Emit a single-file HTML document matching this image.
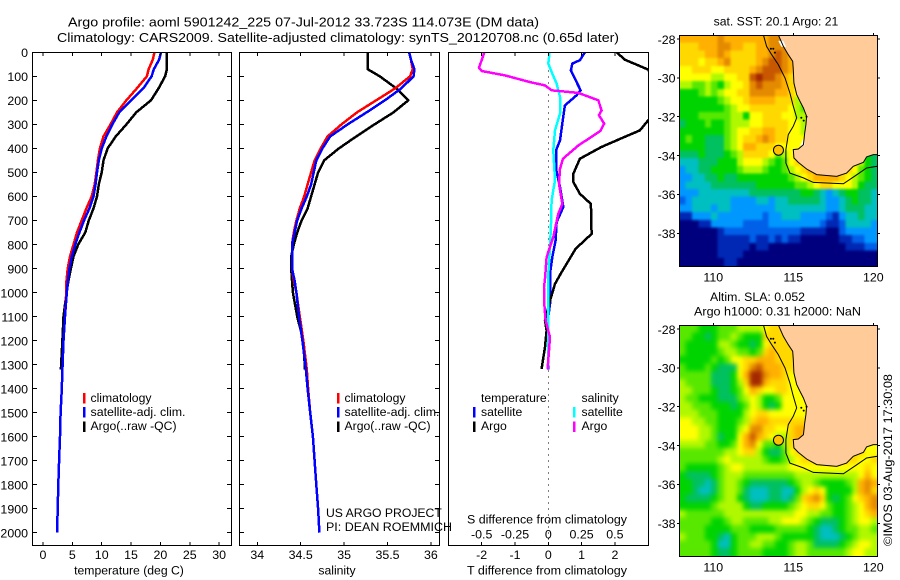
<!DOCTYPE html>
<html lang="en">
<head>
<meta charset="utf-8">
<title>Argo profile 5901242_225</title>
<style>
  html, body { margin: 0; padding: 0; background: #fff; }
  #chart { display: block; width: 900px; height: 580px; font-family: "Liberation Sans", sans-serif; font-size: 12.4px; fill: #000; }
  #chart text { fill: #000; }
  .crisp { shape-rendering: crispEdges; }
</style>
</head>
<body>
<svg id="chart" xmlns="http://www.w3.org/2000/svg" width="900" height="580" viewBox="0 0 900 580">
  <defs>
    <clipPath id="clip-t"><rect x="32.5" y="52.5" width="199" height="493"/></clipPath>
    <clipPath id="clip-s"><rect x="239.5" y="52.5" width="200" height="493"/></clipPath>
    <clipPath id="clip-d"><rect x="448.5" y="52.5" width="200" height="493"/></clipPath>
    <clipPath id="clip-m1"><rect x="679.5" y="35.5" width="198" height="231"/></clipPath>
    <clipPath id="clip-m2"><rect x="679.5" y="325.5" width="198" height="231"/></clipPath>
    <filter id="blur-sst" filterUnits="userSpaceOnUse" x="650" y="0" width="250" height="580" color-interpolation-filters="sRGB"><feGaussianBlur stdDeviation="1.4"/></filter>
    <filter id="blur-sla" filterUnits="userSpaceOnUse" x="650" y="0" width="250" height="580" color-interpolation-filters="sRGB"><feGaussianBlur stdDeviation="2.4"/></filter>
  </defs>

  <text x="68" y="26.5" font-size="13.2" textLength="471" lengthAdjust="spacingAndGlyphs">Argo profile: aoml 5901242_225 07-Jul-2012 33.723S 114.073E (DM data)</text>
  <text x="57" y="42" font-size="13.2" textLength="562" lengthAdjust="spacingAndGlyphs">Climatology: CARS2009. Satellite-adjusted climatology: synTS_20120708.nc (0.65d later)</text>

  <g id="temp-panel"></g>
  <g id="sal-panel"></g>
  <g id="diff-panel"></g>
  <g id="sst-map"></g>
  <g id="sla-map"></g>

  <text x="129" y="574.5" text-anchor="middle" font-size="12.2">temperature (deg C)</text>
  <text x="337" y="574.5" text-anchor="middle" font-size="12.2">salinity</text>
  <text x="547" y="574.5" text-anchor="middle" font-size="12.2" textLength="160" lengthAdjust="spacingAndGlyphs">T difference from climatology</text>
  <text x="547" y="523.5" text-anchor="middle" font-size="12.2" textLength="160" lengthAdjust="spacingAndGlyphs">S difference from climatology</text>

  <g>
    <rect class="crisp" x="83" y="393" width="2.5" height="10.5" fill="#f00"/>
    <rect class="crisp" x="83" y="407" width="2.5" height="10.5" fill="#00f"/>
    <rect class="crisp" x="83" y="421.5" width="2.5" height="10.5" fill="#000"/>
    <text x="90.5" y="402" font-size="12.2">climatology</text>
    <text x="90.5" y="416" font-size="12.2" textLength="95" lengthAdjust="spacingAndGlyphs">satellite-adj. clim.</text>
    <text x="90.5" y="430" font-size="12.2">Argo(..raw -QC)</text>
  </g>
  <g>
    <rect class="crisp" x="337" y="393" width="2.5" height="10.5" fill="#f00"/>
    <rect class="crisp" x="337" y="407" width="2.5" height="10.5" fill="#00f"/>
    <rect class="crisp" x="337" y="421.5" width="2.5" height="10.5" fill="#000"/>
    <text x="344.5" y="402" font-size="12.2">climatology</text>
    <text x="344.5" y="416" font-size="12.2" textLength="95" lengthAdjust="spacingAndGlyphs">satellite-adj. clim.</text>
    <text x="344.5" y="430" font-size="12.2">Argo(..raw -QC)</text>
  </g>
  <g>
    <text x="481" y="402" font-size="12.2">temperature</text>
    <rect class="crisp" x="473" y="407" width="2.5" height="10.5" fill="#00f"/>
    <rect class="crisp" x="473" y="421.5" width="2.5" height="10.5" fill="#000"/>
    <text x="481" y="416" font-size="12.2">satellite</text>
    <text x="481" y="430" font-size="12.2">Argo</text>
    <text x="581.5" y="402" font-size="12.2">salinity</text>
    <rect class="crisp" x="573" y="407" width="2.5" height="10.5" fill="#0ff"/>
    <rect class="crisp" x="573" y="421.5" width="2.5" height="10.5" fill="#f0f"/>
    <text x="581.5" y="416" font-size="12.2">satellite</text>
    <text x="581.5" y="430" font-size="12.2">Argo</text>
  </g>

  <text x="326" y="517" font-size="12.2">US ARGO PROJECT</text>
  <text x="326" y="531" font-size="12.2" textLength="126" lengthAdjust="spacingAndGlyphs">PI: DEAN ROEMMICH</text>

  <text x="776" y="25.5" text-anchor="middle" font-size="12.2">sat. SST: 20.1 Argo: 21</text>
  <text x="710" y="301" font-size="12.2" textLength="95" lengthAdjust="spacingAndGlyphs">Altim. SLA: 0.052</text>
  <text x="694" y="315.5" font-size="12.2" textLength="167" lengthAdjust="spacingAndGlyphs">Argo h1000: 0.31 h2000: NaN</text>
  <text transform="translate(892 546) rotate(-90)" font-size="12.2" textLength="172" lengthAdjust="spacingAndGlyphs">©IMOS 03-Aug-2017 17:30:08</text>
</svg>

<script>
// ---- Profile data ----
const depths = [0,30,70,100,150,200,250,300,350,400,450,500,550,600,650,700,750,800,850,900,950,1000,1100,1200,1320,1400,1500,1600,1700,1800,1900,2000];
const tempClim = [19,18.7,18,17.7,16,14.2,12.6,11.5,10.3,9.7,9.35,9.1,8.8,8.3,7.4,6.6,5.8,5.2,4.6,4.2,4,3.95,3.75,3.5,3.3,3.2,3,2.9,2.75,2.6,2.5,2.4];
const tempSat = [20.1,19.8,18.9,18.5,17.1,15,13,11.8,10.8,10,9.5,9.2,8.95,8.6,7.9,7,6.2,5.5,4.9,4.5,4.25,4.05,3.75,3.5,3.3,3.2,3,2.9,2.75,2.6,2.5,2.4];
const tempArgo = [21.1,21.1,21.1,20.8,19.7,18.4,15.9,14.2,12.4,11,10.3,10,9.5,9.2,8.6,7.8,7.2,6,5.2,4.75,4.35,4,3.5,3.3,3.05];
const salClim = [35.75,35.77,35.79,35.76,35.59,35.37,35.15,34.97,34.81,34.73,34.66,34.62,34.58,34.54,34.49,34.45,34.42,34.4,34.4,34.4,34.42,34.45,34.49,34.53,34.57,34.585,34.61,34.64,34.66,34.68,34.7,34.715];
const salSat = [35.75,35.77,35.81,35.8,35.66,35.47,35.26,35.04,34.84,34.75,34.68,34.65,34.62,34.57,34.51,34.46,34.43,34.4,34.4,34.4,34.43,34.45,34.48,34.52,34.56,34.58,34.61,34.64,34.66,34.68,34.7,34.715];
const salArgo = [35.27,35.27,35.27,35.41,35.6,35.74,35.57,35.35,35.14,34.94,34.77,34.7,34.66,34.62,34.58,34.51,34.46,34.42,34.39,34.39,34.4,34.41,34.46,34.53,34.55];

const dtSatDepths = [0,33,47,75,124,158,179,221,297,367,408,485,561,644,707,783,853,922,1047,1100,1320];
const dtSatValues = [1.1,0.95,0.72,0.68,0.85,0.97,0.85,0.5,0.42,0.35,0.23,0.23,0.35,0.45,0.25,0.22,0.12,0.05,0.05,0,0];
const dtArgoDepths = [0,31,72,100,150,200,250,283,325,364,394,443,506,540,589,631,756,818,881,915,964,1026,1116,1158,1227,1318];
const dtArgoValues = [2.05,2.3,3,3.1,3.7,4.2,3.3,3,2.75,2.1,1.6,0.95,0.75,0.75,0.95,1.28,1.3,0.82,0.55,0.4,0.2,0.07,-0.1,-0.05,-0.1,-0.2];
const dsSatDepths = [0,47,89,130,186,255,325,408,533,617,714,811,922,1304];
const dsSatValues = [0.01,0,0.03,0.0625,0.0875,0.0875,0.05,0.0375,0.05,0.025,0.02,0.0125,0,0];
const dsArgoDepths = [0,64,78,96,124,138,158,169,200,242,262,297,328,388,443,485,547,631,672,769,853,943,977,1047,1116,1186,1318];
const dsArgoValues = [-0.48,-0.52,-0.5,-0.325,-0.1375,-0.025,0.025,0.225,0.375,0.4,0.38,0.42,0.39,0.225,0.11,0.0875,0.08,0.105,0.075,0.0375,-0.0125,-0.025,-0.0325,-0.03,-0.02,0.0125,-0.005];

// ---- Tick labels ----
const depthTicks = [0,100,200,300,400,500,600,700,800,900,1000,1100,1200,1300,1400,1500,1600,1700,1800,1900,2000];
const tempTicks = [0,5,10,15,20,25,30];
const salTicks = [34,34.5,35,35.5,36];
const dtTicks = [-2,-1,0,1,2];
const dsTicks = [-0.5,-0.25,0,0.25,0.5];
const lonTicks = [110,115,120];
const latTicks = [-28,-30,-32,-34,-36,-38];

// ---- Map grids: colour level per cell, north to south, west to east ----
const mapCols = 31;
const mapRows = 30;
const sstGrid = [
[11,11,11,11,11,11,12,11,11,11,11,11,11,11,12,12,10,10,10,10,10,10,10,10,10,10,10,10,10,10,10],
[10,10,10,11,11,11,12,12,11,11,10,10,11,11,12,12,12,10,10,10,10,10,10,10,10,10,10,10,10,10,10],
[10,10,10,10,11,11,12,11,10,10,10,10,11,11,12,13,12,11,10,10,10,10,10,10,10,10,10,10,10,10,10],
[10,10,10,9,10,10,11,12,10,10,10,10,11,12,13,13,12,11,10,10,10,10,10,10,10,10,10,10,10,10,10],
[9,9,10,10,10,9,9,10,10,10,10,11,12,13,13,13,12,11,10,10,10,10,10,10,10,10,10,10,10,10,10],
[9,9,9,9,9,8,8,9,9,10,10,13,14,13,13,12,11,10,10,10,10,10,10,10,10,10,10,10,10,10,10],
[8,8,7,7,8,7,6,8,9,9,10,12,13,12,12,12,11,10,10,10,10,10,10,10,10,10,10,10,10,10,10],
[6,6,6,7,8,7,8,9,9,10,10,12,12,12,12,11,11,10,9,9,9,9,9,9,9,9,9,9,9,9,9],
[6,6,6,6,6,6,7,8,9,9,10,11,11,11,11,10,10,10,8,8,8,8,8,8,8,8,8,8,8,8,8],
[6,6,6,6,6,6,6,7,8,9,9,10,10,10,10,10,10,9,8,7,7,7,7,7,7,7,7,7,7,7,7],
[6,6,6,7,7,7,7,7,8,8,6,9,9,10,10,10,9,9,8,8,8,8,8,8,8,8,8,8,8,8,8],
[5,6,6,6,7,6,6,7,8,8,8,9,9,10,10,10,10,9,9,8,8,8,8,8,8,8,8,8,8,8,8],
[6,6,6,6,6,6,6,7,8,9,9,10,10,11,11,10,10,9,9,8,8,8,8,8,8,8,8,8,8,8,8],
[6,7,6,6,5,5,5,7,8,9,10,10,11,12,11,10,10,9,9,9,9,9,9,9,9,9,9,9,9,9,9],
[6,6,6,6,5,5,5,7,8,9,11,11,10,10,10,9,9,9,9,9,9,9,9,9,9,9,9,9,9,9,9],
[5,5,5,6,5,5,5,6,7,8,10,10,10,10,9,7,8,9,10,10,10,10,10,10,10,10,10,10,10,6,5],
[4,4,4,5,5,5,6,6,6,8,9,9,9,8,7,6,7,9,10,10,11,11,11,11,11,11,11,10,8,6,5],
[3,4,4,5,5,6,6,6,6,7,8,8,8,7,6,6,7,8,9,10,11,11,11,11,11,11,10,9,7,6,5],
[3,3,4,4,5,5,6,5,5,6,6,6,6,6,6,6,6,7,8,9,10,11,11,11,11,10,9,8,7,6,5],
[3,4,4,4,4,5,5,5,5,5,5,5,6,6,6,6,6,6,7,7,8,9,10,10,9,9,9,8,6,5,5],
[3,3,3,4,4,4,4,4,4,4,4,5,5,5,5,5,5,5,5,6,6,5,4,3,4,5,6,6,5,5,4],
[2,3,4,4,4,4,4,4,3,3,3,3,4,4,3,4,4,5,5,5,5,5,4,3,3,4,5,6,5,5,4],
[3,3,4,4,4,3,4,4,3,3,3,3,3,3,3,4,4,4,4,4,4,4,4,3,3,4,5,5,5,4,4],
[1,1,3,3,3,4,3,3,3,3,3,3,3,2,3,3,4,4,4,3,3,3,3,2,1,3,4,4,5,4,4],
[0,0,0,1,1,3,3,3,3,3,2,2,2,2,3,3,3,3,3,3,3,3,2,1,1,2,4,4,4,4,3],
[0,0,0,0,0,0,1,2,2,2,2,2,2,2,2,2,2,2,2,1,1,1,1,0,0,2,3,3,3,3,3],
[0,0,0,0,0,0,1,1,1,1,1,2,1,1,2,1,2,1,1,0,0,0,0,0,0,1,1,2,2,3,3],
[0,0,0,0,0,0,1,1,1,1,1,0,1,1,0,0,0,0,0,0,0,0,0,0,0,0,1,1,1,2,2],
[0,0,0,0,0,0,1,1,1,1,0,0,0,0,0,0,0,0,0,0,0,0,0,0,0,0,0,0,0,0,0],
[0,0,0,0,0,0,0,1,1,0,0,0,0,0,0,0,0,0,0,0,0,0,0,0,0,0,0,0,0,0,0]
];
const slaGrid = [
[7,7,7,6,6,6,7,7,7,8,8,8,8,9,10,10,10,10,10,10,10,10,10,10,10,10,10,10,10,10,10],
[7,7,6,6,5,6,7,7,8,7,6,6,6,10,10,10,10,10,10,10,10,10,10,10,10,10,10,10,10,10,10],
[7,6,6,6,6,6,8,8,7,6,6,5,6,9,10,10,10,10,10,10,10,10,10,10,10,10,10,10,10,10,10],
[7,6,6,6,6,6,7,8,8,7,7,6,7,10,11,10,10,10,10,10,10,10,10,10,10,10,10,10,10,10,10],
[6,6,6,6,6,7,6,7,9,9,10,10,11,11,11,10,10,10,10,10,10,10,10,10,10,10,10,10,10,10,10],
[7,6,6,6,7,6,5,5,5,9,10,12,13,11,11,11,10,10,10,10,10,10,10,10,10,10,10,10,10,10,10],
[7,7,7,7,7,5,5,5,6,9,11,14,14,12,11,11,10,9,9,9,9,9,9,9,9,9,9,9,9,9,9],
[8,7,7,7,7,5,5,5,6,8,10,14,14,11,10,10,10,9,9,9,9,9,9,9,9,9,9,9,9,9,9],
[8,8,7,7,7,6,5,5,6,7,9,11,10,9,9,10,10,9,9,9,9,9,9,9,9,9,9,9,9,9,9],
[8,7,7,6,6,6,5,5,5,7,8,9,8,6,6,7,9,9,9,9,9,9,9,9,9,9,9,9,9,9,9],
[8,8,7,7,7,6,6,6,5,6,7,9,8,6,5,6,9,9,9,9,9,9,9,9,9,9,9,9,9,9,9],
[8,8,8,7,7,7,6,6,6,6,8,9,10,10,9,9,9,9,9,9,9,9,9,9,9,9,9,9,9,9,9],
[9,9,8,8,7,7,6,6,6,7,8,10,11,11,10,10,10,10,10,10,10,10,10,10,10,10,10,10,10,10,10],
[9,9,9,8,8,7,6,6,6,8,9,12,12,10,10,9,9,10,11,11,11,11,11,11,11,11,11,11,11,11,11],
[9,9,9,8,8,7,5,6,6,9,11,13,11,10,9,8,8,10,11,11,11,11,11,11,11,11,11,11,11,9,9],
[8,8,8,8,7,7,6,6,7,9,11,12,9,7,7,6,8,10,10,10,10,10,10,10,10,10,10,10,10,9,9],
[7,7,7,7,7,7,7,8,8,9,10,10,8,6,5,5,7,9,10,10,10,10,10,10,10,10,10,10,10,9,9],
[7,7,7,7,7,7,8,9,8,8,8,8,8,7,6,6,7,8,9,10,10,10,10,10,10,10,10,10,9,9,10],
[7,6,6,6,6,6,7,8,9,9,8,8,8,8,8,8,8,9,9,9,9,9,9,9,9,9,9,9,9,10,9],
[6,5,5,5,5,6,7,8,8,8,7,7,7,7,7,7,7,7,8,8,8,8,8,8,8,8,8,8,9,11,9],
[6,6,5,5,4,5,7,8,8,7,6,5,5,5,5,5,5,6,7,8,8,7,6,6,6,6,7,8,11,12,11],
[6,6,5,4,4,5,7,8,8,7,5,4,4,4,5,5,4,4,6,8,9,10,9,6,6,6,6,8,11,12,10],
[6,5,5,5,5,6,7,8,8,6,5,4,4,4,5,5,4,5,7,10,11,12,10,6,5,6,7,9,10,11,12],
[6,6,6,6,6,7,8,8,8,8,6,5,5,6,6,6,6,7,8,9,10,10,9,7,6,6,7,8,9,11,12],
[8,7,7,7,7,7,7,8,8,8,8,8,8,8,8,8,8,8,9,9,8,8,7,7,6,6,7,8,9,10,11],
[7,7,7,7,7,6,6,7,8,8,7,7,7,7,8,8,9,9,9,8,7,6,5,5,5,6,7,8,9,9,8],
[7,7,7,7,6,6,6,6,7,7,7,6,6,6,6,7,7,7,7,7,6,5,4,4,5,6,7,7,8,8,7],
[8,7,7,7,6,6,5,4,6,7,7,7,8,8,8,7,6,6,6,6,6,5,4,4,4,5,6,7,8,8,8],
[7,7,7,7,7,6,4,4,6,7,7,8,8,7,7,6,6,7,8,8,7,5,5,5,5,6,7,8,9,9,8],
[7,7,7,7,7,6,5,5,6,7,7,7,7,6,6,6,6,7,8,8,7,7,7,7,7,7,8,9,9,8,8]
];

// ---- Geography (longitude / latitude) ----
const coastLon = [114.06,114.38,114.69,114.96,115,115.04,115.21,115.42,115.63,115.83,115.79,115.71,115.67,115.63,115.31,115,115.04,115.31,115.83,116.46,117.71,118.33,118.75,119.38,119.58,120,120.25];
const coastLat = [-27.79,-28.38,-28.81,-29.15,-29.58,-30.26,-30.86,-31.21,-31.55,-31.98,-32.41,-32.84,-33.18,-33.44,-33.66,-33.69,-34.12,-34.35,-34.69,-34.98,-35.07,-34.9,-34.55,-34.35,-34.07,-33.95,-33.95];
const contourLon = [113.13,113.33,113.65,114.06,114.48,114.79,115,115.21,115,114.69,114.54,114.54,114.79,115.63,116.25,117.08,118.13,118.96,119.58,120.25];
const contourLat = [-27.79,-28.38,-28.81,-29.32,-30,-30.78,-31.46,-32.06,-32.49,-32.92,-33.69,-34.38,-34.9,-35.15,-35.38,-35.41,-35.45,-34.99,-34.64,-34.55];
const whiteLon = [114.06,114.38,114.55,114.25];
const whiteLat = [-28.1,-28.1,-28.4,-28.4];
const white2Lon = [115.45,115.7,115.7,115.45];
const white2Lat = [-33.45,-33,-33.45,-33.6];
const reefLon = [113.6,113.85,113.75,115.83,115.5,115.65];
const reefLat = [-28.5,-28.7,-28.5,-32,-32.05,-32.2];
const argoLon = [114.073];
const argoLat = [-33.723];

// ---- Axis functions ----
const xTemp = v => 43 + 5.87 * v;
const xSal = v => 257.3 + 86.8 * (v - 34);
const xDT = v => 548.3 + 33.3 * v;
const xDS = v => 548.3 + 133.2 * v;
const yDepth = d => 52.3 + 0.2402 * d;
const xLon = v => 713.3 + 16 * (v - 110);
const yLat = (v, top) => top + 19.43 * (-28 - v);

const NS = 'http://www.w3.org/2000/svg';
function make(tag, parent, attrs) {
  const el = document.createElementNS(NS, tag);
  for (const k in attrs) el.setAttribute(k, attrs[k]);
  parent.appendChild(el);
  return el;
}
function frame(parent, x, y, w, h) {
  const el = make('rect', parent, { x: x, y: y, width: w, height: h, fill: 'none', stroke: '#000', 'stroke-width': 1, class: 'crisp' });
  
  
}
function tick(parent, x1, y1, x2, y2) {
  const el = make('line', parent, { x1: x1, y1: y1, x2: x2, y2: y2, stroke: '#000', 'stroke-width': 1, class: 'crisp' });
  
  
}
function label(parent, x, y, str, anchor) {
  const el = make('text', parent, { x: x, y: y, 'text-anchor': anchor });
  el.textContent = str;
  
  
}
function profile(parent, name, clip, xf, ds, vs, color, width) {
  let d = '';
  for (let i = 0; i < vs.length; i++) d += (i ? 'L' : 'M') + xf(vs[i]).toFixed(1) + ' ' + yDepth(ds[i]).toFixed(1);
  const el = make('path', parent, { d: d, fill: 'none', stroke: color, 'stroke-width': width, 'clip-path': 'url(#' + clip + ')', 'stroke-linejoin': 'round', class: 'crisp' });
  
  
}

// ---- Temperature panel ----
const tp = document.getElementById('temp-panel');
profile(tp, 'temperature-argo-line', 'clip-t', xTemp, depths, tempArgo, '#000', 2.5);
profile(tp, 'temperature-climatology-line', 'clip-t', xTemp, depths, tempClim, '#f00', 2.5);
profile(tp, 'temperature-satellite-line', 'clip-t', xTemp, depths, tempSat, '#00f', 2.5);
frame(tp, 32.5, 52.5, 199, 493);
depthTicks.forEach(d => {
  tick(tp, 32.5, yDepth(d), 37, yDepth(d));
  tick(tp, 231.5, yDepth(d), 227, yDepth(d));
  label(tp, 28, yDepth(d) + 4.8, String(d), 'end');
});
tempTicks.forEach(v => {
  tick(tp, xTemp(v), 52.5, xTemp(v), 56);
  tick(tp, xTemp(v), 545.5, xTemp(v), 542);
  label(tp, xTemp(v), 559, String(v), 'middle');
});

// ---- Salinity panel ----
const sp = document.getElementById('sal-panel');
profile(sp, 'salinity-argo-line', 'clip-s', xSal, depths, salArgo, '#000', 2.5);
profile(sp, 'salinity-climatology-line', 'clip-s', xSal, depths, salClim, '#f00', 2.5);
profile(sp, 'salinity-satellite-line', 'clip-s', xSal, depths, salSat, '#00f', 2.5);
frame(sp, 239.5, 52.5, 200, 493);
depthTicks.forEach(d => {
  tick(sp, 239.5, yDepth(d), 244, yDepth(d));
  tick(sp, 439.5, yDepth(d), 435, yDepth(d));
});
salTicks.forEach(v => {
  tick(sp, xSal(v), 52.5, xSal(v), 56);
  tick(sp, xSal(v), 545.5, xSal(v), 542);
  label(sp, xSal(v), 559, String(v), 'middle');
});

// ---- Difference panel ----
const dp = document.getElementById('diff-panel');
const zeroLine = make('line', dp, { x1: xDT(0), y1: 52.5, x2: xDT(0), y2: 545.5, stroke: '#000', 'stroke-width': 1, 'stroke-dasharray': '1 5', class: 'crisp' });


profile(dp, 't-difference-satellite-line', 'clip-d', xDT, dtSatDepths, dtSatValues, '#00f', 2.5);
profile(dp, 't-difference-argo-line', 'clip-d', xDT, dtArgoDepths, dtArgoValues, '#000', 2.5);
profile(dp, 's-difference-satellite-line', 'clip-d', xDS, dsSatDepths, dsSatValues, '#0ff', 2.5);
profile(dp, 's-difference-argo-line', 'clip-d', xDS, dsArgoDepths, dsArgoValues, '#f0f', 2.5);
frame(dp, 448.5, 52.5, 200, 493);
dtTicks.forEach(v => {
  tick(dp, xDT(v), 52.5, xDT(v), 56);
  tick(dp, xDT(v), 545.5, xDT(v), 542);
  label(dp, xDT(v), 559, String(v), 'middle');
});
dsTicks.forEach(v => {
  label(dp, xDS(v), 538.7, String(v), 'middle');
});

// ---- Maps ----
const palette = ['#00007f','#0028b4','#0060e8','#0098ff','#00bfc0','#00c060','#00d400','#58e800','#b0f800','#ffff00','#ffd800','#ffb000','#e48a00','#c85800','#a42800'];
function drawMap(id, grid, top, clip, blur) {
  const g = document.getElementById(id);
  const lonWest = 107.875, lonEast = 120.25;
  const latNorth = -27.794, latSouth = -39.68;
  const dLon = (lonEast - lonWest) / mapCols;
  const dLat = (latNorth - latSouth) / mapRows;
  const clipGroup = make('g', g, { 'clip-path': 'url(#' + clip + ')' });
  
  
  const cellGroup = make('g', clipGroup, { filter: 'url(#' + blur + ')' });
  
  
  grid.forEach((row, r) => {
    row.forEach((v, c) => {
      let x0 = xLon(lonWest + c * dLon), x1 = xLon(lonWest + (c + 1) * dLon);
      let y0 = yLat(latNorth - r * dLat, top), y1 = yLat(latNorth - (r + 1) * dLat, top);
      if (c === 0) x0 -= 12;
      if (c === mapCols - 1) x1 += 12;
      if (r === 0) y0 -= 12;
      if (r === mapRows - 1) y1 += 12;
      const cell = make('rect', cellGroup, { x: x0.toFixed(2), y: y0.toFixed(2), width: (x1 - x0 + 0.6).toFixed(2), height: (y1 - y0 + 0.6).toFixed(2), fill: palette[Math.max(0, Math.min(14, Math.round(v)))], class: 'crisp' });
      
      
    });
  });
  const pts = (lons, lats) => lons.map((v, i) => xLon(v).toFixed(1) + ',' + yLat(lats[i], top).toFixed(1)).join(' ');
  const landPoints = pts(coastLon, coastLat) + ' ' + xLon(120.25).toFixed(1) + ',' + yLat(-27.794, top).toFixed(1);
  const land = make('polygon', g, { points: landPoints, fill: '#ffcc99', 'clip-path': 'url(#' + clip + ')' });
  
  
  if (id === 'sst-map') {
    [[whiteLon, whiteLat], [white2Lon, white2Lat]].forEach(p => {
      const w = make('polygon', g, { points: pts(p[0], p[1]), fill: '#fff' });
      
      
    });
  }
  const coast = make('polyline', g, { points: pts(coastLon, coastLat), fill: 'none', stroke: '#000', 'stroke-width': 1, 'clip-path': 'url(#' + clip + ')' });
  
  
  const contour = make('polyline', g, { points: pts(contourLon, contourLat), fill: 'none', stroke: '#000', 'stroke-width': 1, 'clip-path': 'url(#' + clip + ')' });
  
  
  reefLon.forEach((v, i) => {
    const reef = make('circle', g, { cx: xLon(v), cy: yLat(reefLat[i], top), r: 1, fill: '#000' });
    
    
  });
  const marker = make('circle', g, { cx: xLon(argoLon[0]), cy: yLat(argoLat[0], top), r: 5, fill: '#ffc000', stroke: '#000', 'stroke-width': 1 });
  
  
  frame(g, 679.5, top - 3.5, 198, 231);
  lonTicks.forEach(v => {
    tick(g, xLon(v), top - 3.5, xLon(v), top - 6);
    label(g, xLon(v), top + 242.5, String(v), 'middle');
  });
  latTicks.forEach(v => {
    const y = yLat(v, top);
    tick(g, 679.5, y, 677, y);
    tick(g, 877.5, y, 880, y);
    label(g, 675.5, y + 4.8, String(v), 'end');
  });
}
drawMap('sst-map', sstGrid, 39, 'clip-m1', 'blur-sst');
drawMap('sla-map', slaGrid, 329, 'clip-m2', 'blur-sla');
</script>
</body>
</html>
